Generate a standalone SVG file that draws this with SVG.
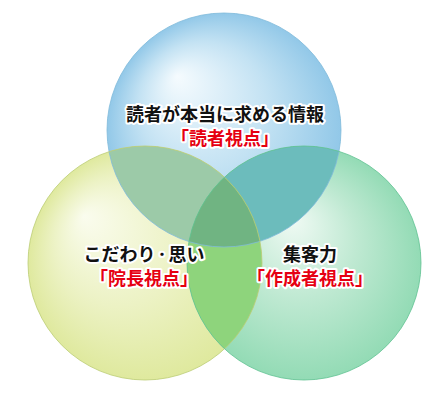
<svg xmlns="http://www.w3.org/2000/svg" width="445" height="400" viewBox="0 0 445 400">
  <defs>
    <radialGradient id="gBlue" gradientUnits="userSpaceOnUse" cx="224" cy="130" r="117" fx="177" fy="76">
      <stop offset="0" stop-color="#f5fbfe"/>
      <stop offset="0.55" stop-color="#c3e2f3"/>
      <stop offset="1" stop-color="#92c8e8"/>
    </radialGradient>
    <radialGradient id="gYellow" gradientUnits="userSpaceOnUse" cx="145" cy="263" r="117" fx="84" fy="216">
      <stop offset="0" stop-color="#fafcee"/>
      <stop offset="0.55" stop-color="#ecf2c4"/>
      <stop offset="1" stop-color="#dfe99e"/>
    </radialGradient>
    <radialGradient id="gGreen" gradientUnits="userSpaceOnUse" cx="304" cy="263" r="117" fx="292" fy="218">
      <stop offset="0" stop-color="#f0faf4"/>
      <stop offset="0.5" stop-color="#bfe9d2"/>
      <stop offset="1" stop-color="#93dbb5"/>
    </radialGradient>
    <clipPath id="cBlue"><circle cx="224" cy="130" r="117"/></clipPath>
    <clipPath id="cYellow"><circle cx="145" cy="263" r="117"/></clipPath>
    <style>
      .lbl { font-family: "Noto Sans CJK JP", "Noto Sans CJK SC", sans-serif; font-weight: bold; font-size: 18px; text-anchor: middle; paint-order: stroke; stroke: #ffffff; stroke-width: 4; stroke-linejoin: round; }
      .blk { fill: #111111; }
      .red { fill: #e60012; }
      .dot { font-size: 13px; }
      .edge { fill: none; stroke-width: 1; }
    </style>
  </defs>
  <rect width="445" height="400" fill="#ffffff"/>

  <g id="node-reader-circle"><circle cx="224" cy="130" r="117" fill="url(#gBlue)"/></g>
  <g id="node-director-circle"><circle cx="145" cy="263" r="117" fill="url(#gYellow)"/></g>
  <g id="node-author-circle"><circle cx="304" cy="263" r="117" fill="url(#gGreen)"/></g>

  <g id="overlaps">
    <g clip-path="url(#cBlue)"><circle cx="145" cy="263" r="117" fill="#9ccaa8"/></g>
    <g clip-path="url(#cBlue)"><circle cx="304" cy="263" r="117" fill="#6cbcbc"/></g>
    <g clip-path="url(#cYellow)"><circle cx="304" cy="263" r="117" fill="#8ed47c"/></g>
    <g clip-path="url(#cBlue)"><g clip-path="url(#cYellow)"><circle cx="304" cy="263" r="117" fill="#70b482"/></g></g>
  </g>

  <g id="connectors">
    <circle class="edge" cx="224" cy="130" r="117" stroke="#7fbadb" stroke-opacity="0.8"/>
    <circle class="edge" cx="145" cy="263" r="117" stroke="#bccd74" stroke-opacity="0.8"/>
    <circle class="edge" cx="304" cy="263" r="117" stroke="#5fc291" stroke-opacity="0.8"/>
  </g>

  <g id="node-reader">
    <text class="lbl blk" x="225" y="121">読者が本当に求める情報</text>
    <text class="lbl red" x="225" y="145">「読者視点」</text>
  </g>
  <g id="node-director">
    <text class="lbl blk" x="144" y="261">こだわり<tspan class="dot" dy="-2">・</tspan><tspan dy="2">思い</tspan></text>
    <text class="lbl red" x="144" y="285">「院長視点」</text>
  </g>
  <g id="node-author">
    <text class="lbl blk" x="310" y="261">集客力</text>
    <text class="lbl red" x="310" y="285">「作成者視点」</text>
  </g>
</svg>
